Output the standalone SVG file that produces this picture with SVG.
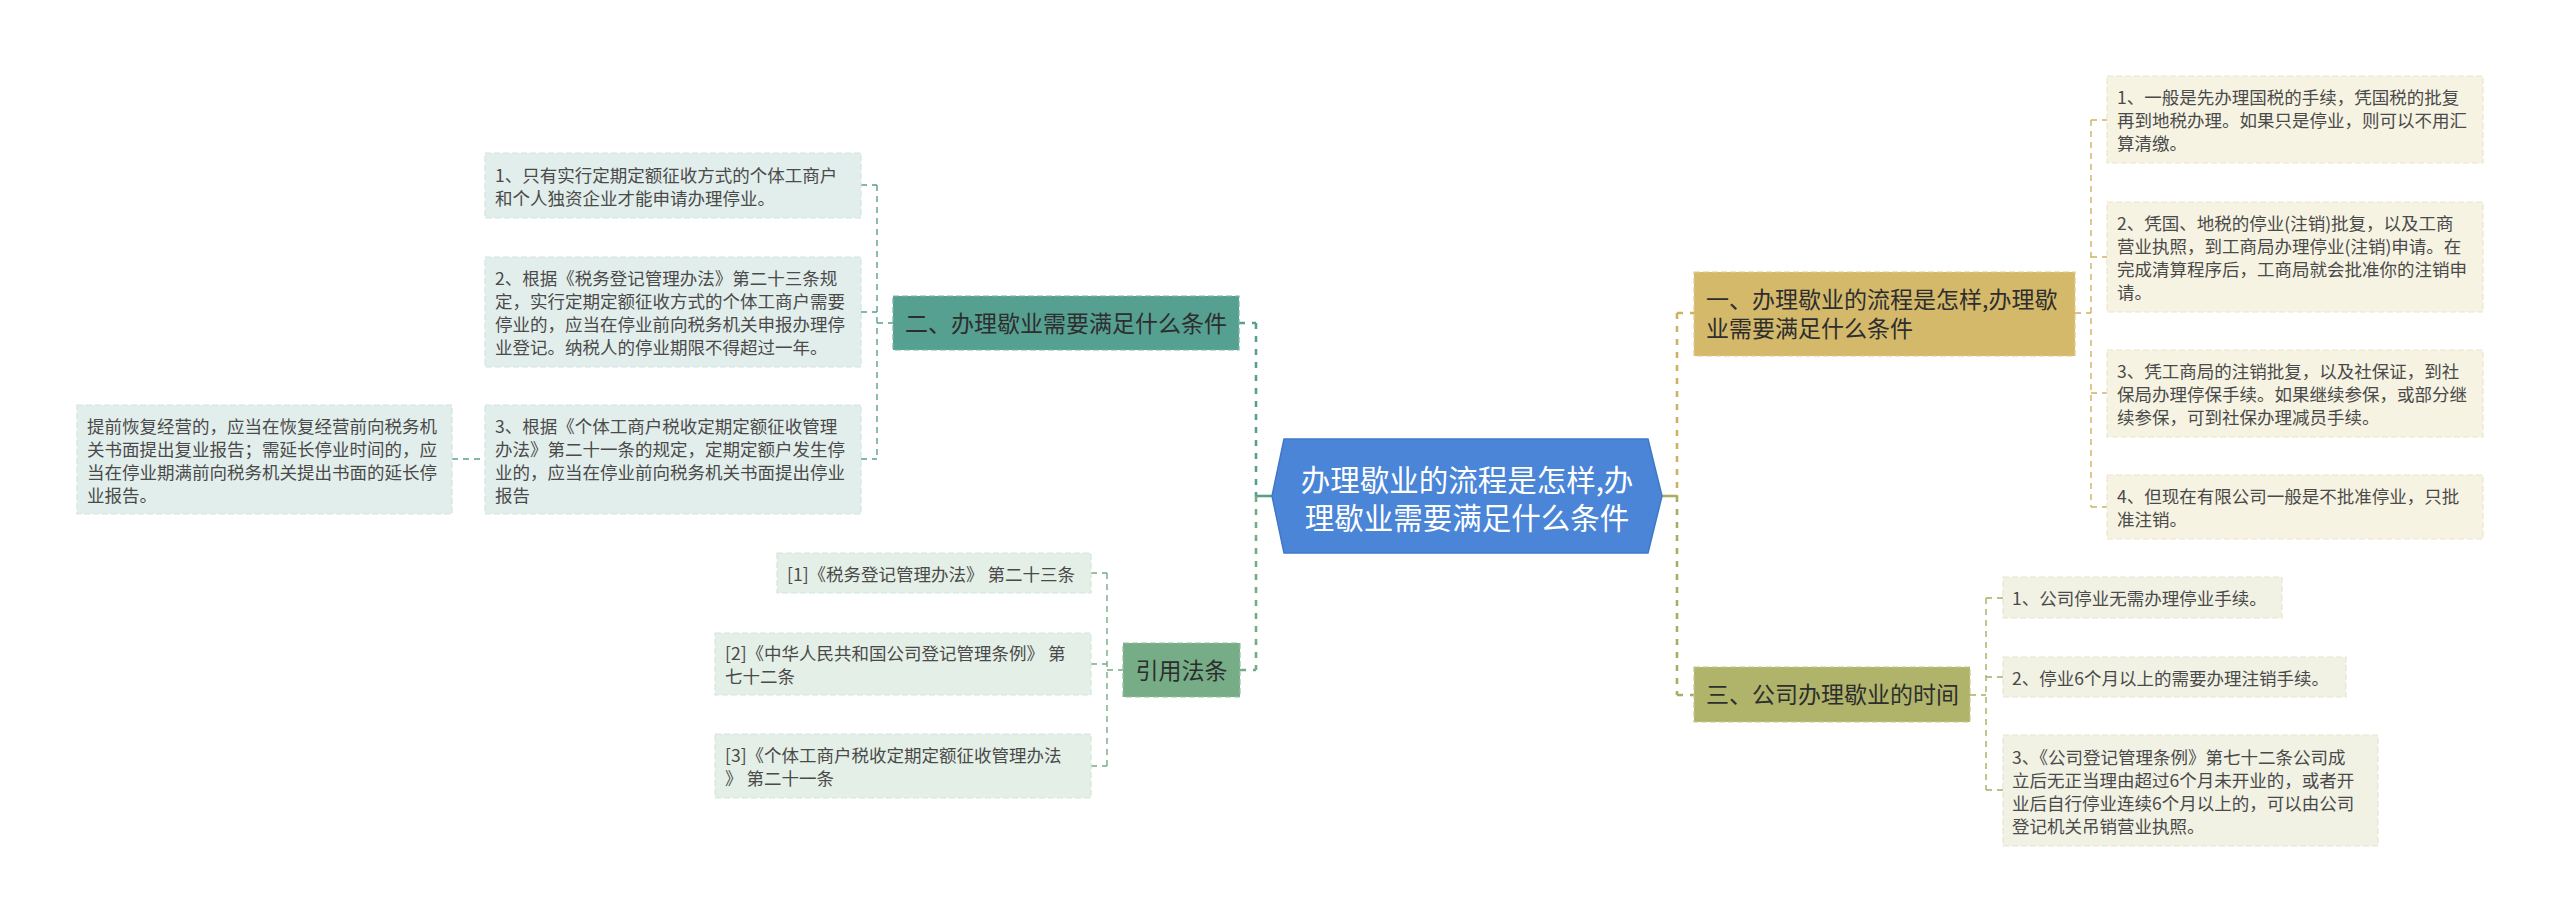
<svg xmlns="http://www.w3.org/2000/svg" width="2560" height="922" viewBox="0 0 2560 922">
<style>
text{font-family:"Noto Sans CJK SC","Noto Sans",sans-serif;}
.sub{font-size:17.5px;fill:#4a4a4a;}
.nd{font-size:23px;fill:#2e2e2e;}
.root{font-size:29.5px;fill:#ffffff;}
.thick{fill:none;stroke-width:2.6;stroke-dasharray:6 7;}
.thin{fill:none;stroke-width:1.4;stroke-dasharray:6 5;}
.solid{fill:none;stroke-width:2.6;}
.teal{stroke:#5a9e92;}
.green{stroke:#74ab86;}
.gold{stroke:#cdb262;}
.olive{stroke:#a8ad62;}
.bx{stroke-width:1.2;stroke-dasharray:6 3;}
.stT{fill:#e2eeeb;stroke:#d2e4e0;}
.stG{fill:#e4efe7;stroke:#d4e6d9;}
.stY{fill:#f6f3e2;stroke:#ece6cc;}
.stO{fill:#f1f1e4;stroke:#e5e5d2;}
</style>
<rect width="2560" height="922" fill="#ffffff"/>
<g id="connectors">
  <line class="solid teal" x1="1272" y1="496" x2="1256" y2="496"/>
  <line class="thick teal" x1="1256" y1="323" x2="1256" y2="496"/>
  <line class="thick green" x1="1256" y1="496" x2="1256" y2="670"/>
  <line class="thick teal" x1="1239" y1="323" x2="1256" y2="323"/>
  <line class="thick green" x1="1240" y1="670" x2="1256" y2="670"/>
  <line class="thin teal" x1="877" y1="185" x2="877" y2="459"/>
  <line class="thin teal" x1="861" y1="185" x2="877" y2="185"/>
  <line class="thin teal" x1="861" y1="312" x2="877" y2="312"/>
  <line class="thin teal" x1="861" y1="459" x2="877" y2="459"/>
  <line class="thin teal" x1="877" y1="323" x2="893" y2="323"/>
  <line class="thin teal" x1="452" y1="459" x2="485" y2="459"/>
  <line class="thin green" x1="1107" y1="573" x2="1107" y2="766"/>
  <line class="thin green" x1="1091" y1="573" x2="1107" y2="573"/>
  <line class="thin green" x1="1091" y1="664" x2="1107" y2="664"/>
  <line class="thin green" x1="1091" y1="766" x2="1107" y2="766"/>
  <line class="thin green" x1="1107" y1="670" x2="1123" y2="670"/>
  <line class="solid olive" x1="1662" y1="496" x2="1677" y2="496"/>
  <line class="thick gold" x1="1677" y1="313" x2="1677" y2="496"/>
  <line class="thick olive" x1="1677" y1="496" x2="1677" y2="695"/>
  <line class="thick gold" x1="1677" y1="313" x2="1694" y2="313"/>
  <line class="thick olive" x1="1677" y1="695" x2="1694" y2="695"/>
  <line class="thin gold" x1="2091" y1="120" x2="2091" y2="507"/>
  <line class="thin gold" x1="2075" y1="313" x2="2091" y2="313"/>
  <line class="thin gold" x1="2091" y1="120" x2="2107" y2="120"/>
  <line class="thin gold" x1="2091" y1="257" x2="2107" y2="257"/>
  <line class="thin gold" x1="2091" y1="393" x2="2107" y2="393"/>
  <line class="thin gold" x1="2091" y1="507" x2="2107" y2="507"/>
  <line class="thin olive" x1="1986" y1="598" x2="1986" y2="790"/>
  <line class="thin olive" x1="1970" y1="695" x2="1986" y2="695"/>
  <line class="thin olive" x1="1986" y1="598" x2="2003" y2="598"/>
  <line class="thin olive" x1="1986" y1="677" x2="2003" y2="677"/>
  <line class="thin olive" x1="1986" y1="790" x2="2003" y2="790"/>
</g>
<g id="root">
  <polygon points="1272,496 1284,439 1648,439 1662,496 1648,553 1284,553" fill="#4a85d8" stroke="#3f78c8" stroke-width="1.5"/>
  <text class="root" x="1467" y="491" text-anchor="middle">办理歇业的流程是怎样,办</text>
  <text class="root" x="1467" y="529" text-anchor="middle">理歇业需要满足什么条件</text>
</g>
<g id="n2">
  <rect class="bx" x="893" y="296" width="346" height="54" fill="#56a092" stroke="#78b5a9"/>
  <text class="nd" x="1066" y="331.5" text-anchor="middle">二、办理歇业需要满足什么条件</text>
</g>
<g id="n2-1">
  <rect class="bx stT" x="485" y="153" width="376" height="65"/>
  <text class="sub" x="495" y="181.5">1、只有实行定期定额征收方式的个体工商户</text>
  <text class="sub" x="495" y="204.5">和个人独资企业才能申请办理停业。</text>
</g>
<g id="n2-2">
  <rect class="bx stT" x="485" y="257" width="376" height="110"/>
  <text class="sub" x="495" y="285">2、根据《税务登记管理办法》第二十三条规</text>
  <text class="sub" x="495" y="308">定，实行定期定额征收方式的个体工商户需要</text>
  <text class="sub" x="495" y="331">停业的，应当在停业前向税务机关申报办理停</text>
  <text class="sub" x="495" y="354">业登记。纳税人的停业期限不得超过一年。</text>
</g>
<g id="n2-3">
  <rect class="bx stT" x="485" y="405" width="376" height="109"/>
  <text class="sub" x="495" y="432.5">3、根据《个体工商户税收定期定额征收管理</text>
  <text class="sub" x="495" y="455.5">办法》第二十一条的规定，定期定额户发生停</text>
  <text class="sub" x="495" y="478.5">业的，应当在停业前向税务机关书面提出停业</text>
  <text class="sub" x="495" y="501.5">报告</text>
</g>
<g id="n2-3-1">
  <rect class="bx stT" x="77" y="405" width="375" height="109"/>
  <text class="sub" x="87" y="432.5">提前恢复经营的，应当在恢复经营前向税务机</text>
  <text class="sub" x="87" y="455.5">关书面提出复业报告；需延长停业时间的，应</text>
  <text class="sub" x="87" y="478.5">当在停业期满前向税务机关提出书面的延长停</text>
  <text class="sub" x="87" y="501.5">业报告。</text>
</g>
<g id="n4">
  <rect class="bx" x="1123" y="643" width="117" height="54" fill="#76ad87" stroke="#94c2a2"/>
  <text class="nd" x="1181.5" y="678.5" text-anchor="middle">引用法条</text>
</g>
<g id="n4-1">
  <rect class="bx stG" x="777" y="553" width="314" height="40"/>
  <text class="sub" x="787" y="580.5">[1]《税务登记管理办法》 第二十三条</text>
</g>
<g id="n4-2">
  <rect class="bx stG" x="715" y="633" width="376" height="62"/>
  <text class="sub" x="725" y="660">[2]《中华人民共和国公司登记管理条例》 第</text>
  <text class="sub" x="725" y="683">七十二条</text>
</g>
<g id="n4-3">
  <rect class="bx stG" x="715" y="734" width="376" height="64"/>
  <text class="sub" x="725" y="762">[3]《个体工商户税收定期定额征收管理办法</text>
  <text class="sub" x="725" y="785">》 第二十一条</text>
</g>
<g id="n1">
  <rect class="bx" x="1694" y="272" width="381" height="84" fill="#d4b96b" stroke="#e2cd8f"/>
  <text class="nd" x="1706" y="307.5">一、办理歇业的流程是怎样,办理歇</text>
  <text class="nd" x="1706" y="337">业需要满足什么条件</text>
</g>
<g id="n1-1">
  <rect class="bx stY" x="2107" y="76" width="376" height="87"/>
  <text class="sub" x="2117" y="104">1、一般是先办理国税的手续，凭国税的批复</text>
  <text class="sub" x="2117" y="127">再到地税办理。如果只是停业，则可以不用汇</text>
  <text class="sub" x="2117" y="150">算清缴。</text>
</g>
<g id="n1-2">
  <rect class="bx stY" x="2107" y="202" width="376" height="110"/>
  <text class="sub" x="2117" y="230">2、凭国、地税的停业(注销)批复，以及工商</text>
  <text class="sub" x="2117" y="253">营业执照，到工商局办理停业(注销)申请。在</text>
  <text class="sub" x="2117" y="276">完成清算程序后，工商局就会批准你的注销申</text>
  <text class="sub" x="2117" y="299">请。</text>
</g>
<g id="n1-3">
  <rect class="bx stY" x="2107" y="350" width="376" height="87"/>
  <text class="sub" x="2117" y="378">3、凭工商局的注销批复，以及社保证，到社</text>
  <text class="sub" x="2117" y="401">保局办理停保手续。如果继续参保，或部分继</text>
  <text class="sub" x="2117" y="424">续参保，可到社保办理减员手续。</text>
</g>
<g id="n1-4">
  <rect class="bx stY" x="2107" y="475" width="376" height="64"/>
  <text class="sub" x="2117" y="503">4、但现在有限公司一般是不批准停业，只批</text>
  <text class="sub" x="2117" y="526">准注销。</text>
</g>
<g id="n3">
  <rect class="bx" x="1694" y="667" width="276" height="55" fill="#b0b46a" stroke="#c6c98f"/>
  <text class="nd" x="1706" y="703">三、公司办理歇业的时间</text>
</g>
<g id="n3-1">
  <rect class="bx stO" x="2003" y="577" width="279" height="41"/>
  <text class="sub" x="2012" y="605">1、公司停业无需办理停业手续。</text>
</g>
<g id="n3-2">
  <rect class="bx stO" x="2003" y="657" width="343" height="40"/>
  <text class="sub" x="2012" y="684.5">2、停业6个月以上的需要办理注销手续。</text>
</g>
<g id="n3-3">
  <rect class="bx stO" x="2003" y="735" width="375" height="111"/>
  <text class="sub" x="2012" y="763.5">3、《公司登记管理条例》第七十二条公司成</text>
  <text class="sub" x="2012" y="786.5">立后无正当理由超过6个月未开业的，或者开</text>
  <text class="sub" x="2012" y="809.5">业后自行停业连续6个月以上的，可以由公司</text>
  <text class="sub" x="2012" y="832.5">登记机关吊销营业执照。</text>
</g>
</svg>
